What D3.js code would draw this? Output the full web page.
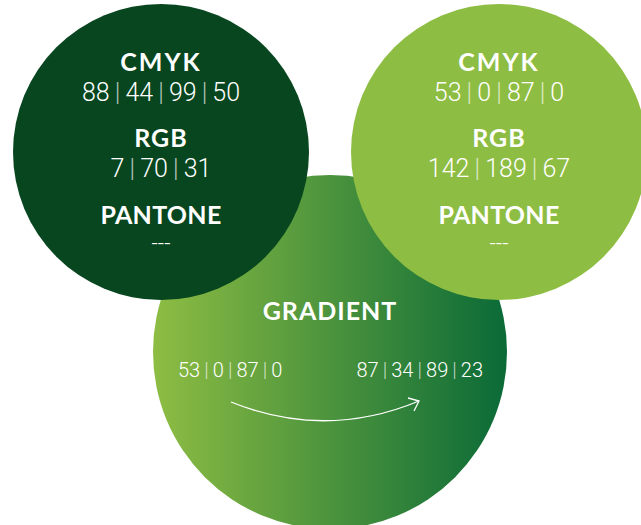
<!DOCTYPE html>
<html>
<head>
<meta charset="utf-8">
<script src="https://cdn.jsdelivr.net/npm/d3@7"></script>
<style>
  body { margin: 0; background: #fff; }
  .head { font-family: Lato, "Open Sans", sans-serif; font-weight: 700; fill: #fff; }
  .num { font-family: Roboto, Lato, sans-serif; font-weight: 300; fill: #fff; }
</style>
</head>
<body>
<div id="viz"></div>
<script>
// swatches
var swatchNames = ["dark", "light"];
var swatchFill = ["#07461f", "#8ebd43"];
var cmykValues = [[88, 44, 99, 50], [53, 0, 87, 0]];
var rgbValues = [[7, 70, 31], [142, 189, 67]];
var pantoneValues = ["---", "---"];
var rowLabels = ["CMYK", "RGB", "PANTONE"];

// gradient circle
var gradientFrom = [53, 0, 87, 0];
var gradientTo = [87, 34, 89, 23];
var gradientColors = ["#8ebd43", "#0a6a37"];

var width = 641, height = 525;

var svg = d3.select("#viz").append("svg")
  .attr("width", width)
  .attr("height", height);

var xPos = d3.scalePoint().domain(swatchNames).range([161, 499]);
var rowY = d3.scaleOrdinal().domain(rowLabels).range([71, 147, 224]);
var labelSpacing = {CMYK: 2, RGB: 1, PANTONE: 0.3};

var defs = svg.append("defs");
var grad = defs.append("linearGradient")
  .attr("id", "grad")
  .attr("x1", "0%").attr("x2", "100%")
  .attr("y1", "0%").attr("y2", "0%");
grad.selectAll("stop")
  .data(gradientColors)
  .enter().append("stop")
  .attr("offset", (d, i) => i * 100 + "%")
  .attr("stop-color", d => d);

// big gradient circle in the back
var gc = {x: 330, y: 352, r: 177};
svg.append("circle")
  .attr("cx", gc.x).attr("cy", gc.y).attr("r", gc.r)
  .attr("fill", "url(#grad)");

// two swatch circles
var sw = svg.selectAll(".swatch")
  .data(swatchNames)
  .enter().append("g")
  .attr("class", "swatch")
  .attr("transform", d => `translate(${xPos(d)},0)`);

sw.append("circle")
  .attr("cy", 152)
  .attr("r", 148)
  .attr("fill", (d, i) => swatchFill[i]);

function joined(g, vals) {
  vals.forEach((v, j) => {
    if (j > 0) g.append("tspan").attr("fill-opacity", 0.7).text("\u2009|\u2009");
    g.append("tspan").text(v);
  });
}

sw.each(function(d, i) {
  var g = d3.select(this);
  var lines = [cmykValues[i], rgbValues[i], [pantoneValues[i]]];
  rowLabels.forEach((lab, k) => {
    g.append("text")
      .attr("class", "head")
      .attr("text-anchor", "middle")
      .attr("y", rowY(lab))
      .attr("font-size", 25)
      .attr("letter-spacing", labelSpacing[lab])
      .text(lab);
    var t = g.append("text")
      .attr("class", "num")
      .attr("text-anchor", "middle")
      .attr("y", rowY(lab) + (k == 2 ? 27 : 30))
      .attr("font-size", k == 2 ? 22 : 25);
    joined(t, lines[k]);
  });
});

// gradient text
svg.append("text")
  .attr("class", "head")
  .attr("x", gc.x).attr("y", 320)
  .attr("text-anchor", "middle")
  .attr("font-size", 25)
  .attr("letter-spacing", 1)
  .text("GRADIENT");

var ends = [gradientFrom, gradientTo];
var endX = d3.scalePoint().domain([0, 1]).range([231, 419]);
svg.selectAll(".gval")
  .data(ends)
  .enter().append("text")
  .attr("class", "num gval")
  .attr("x", (d, i) => i == 0 ? 178 : 483)
  .attr("y", 377)
  .attr("text-anchor", (d, i) => i == 0 ? "start" : "end")
  .attr("font-size", 20)
  .each(function(d) { joined(d3.select(this), d); });

// curved arrow
var p0 = [endX(0), 402], p1 = [endX(1), 401];
var curve = d3.path();
curve.moveTo(p0[0], p0[1]);
curve.quadraticCurveTo(325, 440, p1[0], p1[1]);
svg.append("path")
  .attr("d", curve.toString())
  .attr("fill", "none")
  .attr("stroke", "#fff")
  .attr("stroke-width", 1.3);
svg.append("path")
  .attr("d", `M${p1[0] - 11},${p1[1] - 3}L${p1[0]},${p1[1]}L${p1[0] - 5},${p1[1] + 10}`)
  .attr("fill", "none")
  .attr("stroke", "#fff")
  .attr("stroke-width", 1.3);
</script>
</body>
</html>
